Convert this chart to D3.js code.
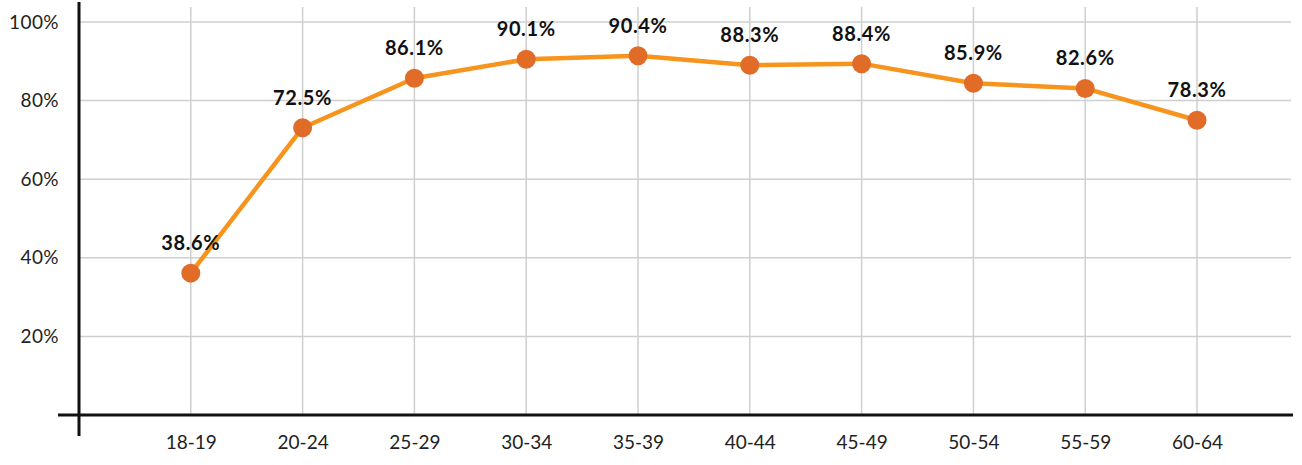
<!DOCTYPE html>
<meta charset="utf-8">
<script src="https://d3js.org/d3.v7.min.js"></script>
<style>
  body { margin: 0; background: #fff; }
  text { font-family: Lato, "Noto Sans", sans-serif; }
</style>
<div id="my_dataviz"></div>
<script>

// age groups on the x axis
var ageGroups = ["18-19", "20-24", "25-29", "30-34", "35-39", "40-44", "45-49", "50-54", "55-59", "60-64"];
// plotted values
var rates = [36.1, 73.1, 85.7, 90.5, 91.4, 89.0, 89.4, 84.4, 83.1, 75.0];
// labels printed above the dots
var rateLabels = ["38.6%", "72.5%", "86.1%", "90.1%", "90.4%", "88.3%", "88.4%", "85.9%", "82.6%", "78.3%"];
// y ticks
var yTicks = [20, 40, 60, 80, 100];

var W = 1302, H = 465;
var margin = {top: 22, right: 11, bottom: 50, left: 79},
    width = W - margin.left - margin.right,
    height = 415 - margin.top;

var svg = d3.select("#my_dataviz")
  .append("svg")
    .attr("width", W)
    .attr("height", H)
  .append("g")
    .attr("transform", "translate(" + margin.left + "," + margin.top + ")");

var step = 111.8;
var x = d3.scalePoint()
  .domain(ageGroups)
  .range([step, step * 10]);

var y = d3.scaleLinear()
  .domain([0, 100])
  .range([height, 0]);

// horizontal grid
svg.append("g")
  .selectAll("line")
  .data(yTicks)
  .enter().append("line")
    .attr("x1", 0).attr("x2", width)
    .attr("y1", d => y(d)).attr("y2", d => y(d))
    .attr("stroke", "#cfcfcf")
    .attr("stroke-width", 1.5);

// vertical grid
svg.append("g")
  .selectAll("line")
  .data(ageGroups)
  .enter().append("line")
    .attr("x1", d => x(d)).attr("x2", d => x(d))
    .attr("y1", -15).attr("y2", height)
    .attr("stroke", "#cfcfcf")
    .attr("stroke-width", 1.5);

// Y axis labels
var yAxis = svg.append("g")
  .call(d3.axisLeft(y).tickValues(yTicks).tickSize(0).tickPadding(20).tickFormat(d => d + "%"));
yAxis.select(".domain").remove();
yAxis.selectAll("text")
  .attr("font-size", 19)
  .attr("fill", "#222")
  .style("letter-spacing", "0.4px")
  .style("font-family", "Lato, sans-serif");

// X axis labels
var xAxis = svg.append("g")
  .attr("transform", "translate(0," + height + ")")
  .call(d3.axisBottom(x).tickSize(0).tickPadding(21));
xAxis.select(".domain").remove();
xAxis.selectAll("text")
  .attr("font-size", 19)
  .attr("fill", "#222")
  .style("font-family", "Lato, sans-serif");

// axis lines
svg.append("line")
  .attr("x1", 0).attr("x2", 0)
  .attr("y1", -20).attr("y2", height + 21)
  .attr("stroke", "#111").attr("stroke-width", 3);
svg.append("line")
  .attr("x1", -21).attr("x2", width + 2)
  .attr("y1", height).attr("y2", height)
  .attr("stroke", "#111").attr("stroke-width", 3);

// line
var line = d3.line()
  .x((d, i) => x(ageGroups[i]))
  .y(d => y(d));

svg.append("path")
  .datum(rates)
  .attr("fill", "none")
  .attr("stroke", "#f7941d")
  .attr("stroke-width", 4.5)
  .attr("stroke-linejoin", "round")
  .attr("d", line);

// dots
svg.selectAll("circle")
  .data(rates)
  .enter().append("circle")
    .attr("cx", (d, i) => x(ageGroups[i]))
    .attr("cy", d => y(d))
    .attr("r", 9.5)
    .attr("fill", "#e06c28");

// value labels
svg.selectAll(".lbl")
  .data(rates)
  .enter().append("text")
    .attr("class", "lbl")
    .attr("x", (d, i) => x(ageGroups[i]))
    .attr("y", d => y(d) - 23)
    .attr("text-anchor", "middle")
    .attr("font-size", 20)
    .attr("font-weight", "bold")
    .style("letter-spacing", "0.6px")
    .attr("fill", "#111")
    .text((d, i) => rateLabels[i]);

</script>
